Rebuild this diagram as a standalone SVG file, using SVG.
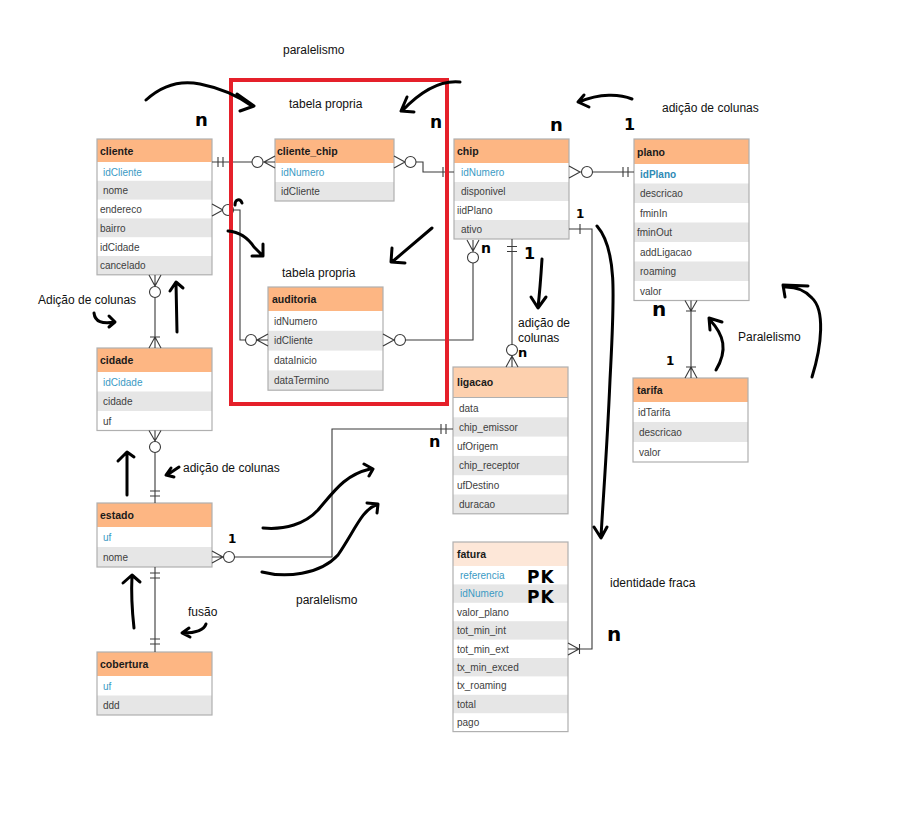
<svg xmlns="http://www.w3.org/2000/svg" width="900" height="838" viewBox="0 0 900 838">
<style>
.bg{fill:#fff;stroke:none}
.hd{fill:#fdb683}
.hd2{fill:#fdd0ae}
.hd3{fill:#fde7d8}
.g{fill:#e6e6e6}
.bd{fill:none;stroke:#b0b0b0;stroke-width:1.2}
.ht{font-family:"Liberation Sans",Arial,sans-serif;font-size:10.5px;font-weight:bold;fill:#1a1a1a}
.rt{font-family:"Liberation Sans",Arial,sans-serif;font-size:10px;fill:#404040}
.pk{fill:#3a9ac4}
.pkb{fill:#2e8ab5;font-weight:bold}
.ln{fill:none;stroke:#3a3a3a;stroke-width:1.1}
.ci{fill:#fff;stroke:#3a3a3a;stroke-width:1.1}
.lb{font-family:"Liberation Sans",Arial,sans-serif;font-size:12px;fill:#111}
.hw{fill:none;stroke:#000;stroke-width:3;stroke-linecap:round;stroke-linejoin:round}
.hn{font-family:"DejaVu Sans",sans-serif;font-weight:bold;fill:#000}
</style>
<rect width="900" height="838" fill="#fff"/>

<g id="cliente">
<rect class="bg" x="97" y="139" width="115" height="136"/>
<rect class="hd" x="97" y="139" width="115" height="23"/>
<rect class="g" x="97" y="180.8" width="115" height="18.8"/>
<rect class="g" x="97" y="218.4" width="115" height="18.8"/>
<rect class="g" x="97" y="256" width="115" height="18.8"/>
<rect class="bd" x="97" y="139" width="115" height="135.8"/>
<text class="ht" x="100" y="155">cliente</text>
<text class="rt pk" x="103" y="175.5">idCliente</text>
<text class="rt" x="103" y="194.3">nome</text>
<text class="rt" x="100" y="213">endereco</text>
<text class="rt" x="100" y="231.8">bairro</text>
<text class="rt" x="100" y="250.6">idCidade</text>
<text class="rt" x="100" y="269.4">cancelado</text>
</g>

<g id="cliente_chip">
<rect class="bg" x="275" y="139" width="119" height="62"/>
<rect class="hd" x="275" y="139" width="119" height="24"/>
<rect class="g" x="275" y="182" width="119" height="19"/>
<rect class="bd" x="275" y="139" width="119" height="62"/>
<text class="ht" x="277" y="155">cliente_chip</text>
<text class="rt pk" x="281" y="176">idNumero</text>
<text class="rt" x="281" y="195">idCliente</text>
</g>

<g id="chip">
<rect class="bg" x="454" y="139" width="115" height="100"/>
<rect class="hd" x="454" y="139" width="115" height="24"/>
<rect class="g" x="454" y="182" width="115" height="19"/>
<rect class="g" x="454" y="220" width="115" height="19"/>
<rect class="bd" x="454" y="139" width="115" height="100"/>
<text class="ht" x="457" y="155">chip</text>
<text class="rt pk" x="461" y="176">idNumero</text>
<text class="rt" x="461" y="195">disponivel</text>
<text class="rt" x="457" y="214">iidPlano</text>
<text class="rt" x="461" y="233">ativo</text>
</g>

<g id="plano">
<rect class="bg" x="634" y="139" width="115" height="161.5"/>
<rect class="hd" x="634" y="139" width="115" height="25"/>
<rect class="g" x="634" y="183.5" width="115" height="19.5"/>
<rect class="g" x="634" y="222.5" width="115" height="19.5"/>
<rect class="g" x="634" y="261.5" width="115" height="19.5"/>
<rect class="bd" x="634" y="139" width="115" height="161.5"/>
<text class="ht" x="637" y="156">plano</text>
<text class="rt pkb" x="640" y="177.5">idPlano</text>
<text class="rt" x="640" y="197">descricao</text>
<text class="rt" x="640" y="216.5">fminIn</text>
<text class="rt" x="637" y="236">fminOut</text>
<text class="rt" x="640" y="255.5">addLigacao</text>
<text class="rt" x="640" y="275">roaming</text>
<text class="rt" x="640" y="294.5">valor</text>
</g>

<g id="cidade">
<rect class="bg" x="97" y="348" width="115" height="82.5"/>
<rect class="hd" x="97" y="348" width="115" height="24"/>
<rect class="g" x="97" y="391.5" width="115" height="19.5"/>
<rect class="bd" x="97" y="348" width="115" height="82.5"/>
<text class="ht" x="100" y="364">cidade</text>
<text class="rt pk" x="103" y="385.5">idCidade</text>
<text class="rt" x="103" y="405">cidade</text>
<text class="rt" x="103" y="424.5">uf</text>
</g>

<g id="auditoria">
<rect class="bg" x="268" y="287" width="115" height="103.2"/>
<rect class="hd" x="268" y="287" width="115" height="24"/>
<rect class="g" x="268" y="330.8" width="115" height="19.8"/>
<rect class="g" x="268" y="370.4" width="115" height="19.8"/>
<rect class="bd" x="268" y="287" width="115" height="103.2"/>
<text class="ht" x="272" y="303">auditoria</text>
<text class="rt" x="274" y="324.5">idNumero</text>
<text class="rt" x="274" y="344.3">idCliente</text>
<text class="rt" x="274" y="364.1">dataInicio</text>
<text class="rt" x="274" y="383.9">dataTermino</text>
</g>

<g id="ligacao">
<rect class="bg" x="453" y="367" width="115" height="146.8"/>
<rect class="hd2" x="453" y="367" width="115" height="30"/>
<line x1="453" y1="397.5" x2="568" y2="397.5" stroke="#b0b0b0" stroke-width="1"/>
<rect class="g" x="453" y="417.3" width="115" height="19.3"/>
<rect class="g" x="453" y="455.9" width="115" height="19.3"/>
<rect class="g" x="453" y="494.5" width="115" height="19.3"/>
<rect class="bd" x="453" y="367" width="115" height="146.8"/>
<text class="ht" x="457" y="386">ligacao</text>
<text class="rt" x="459" y="411.5">data</text>
<text class="rt" x="459" y="430.8">chip_emissor</text>
<text class="rt" x="457" y="450.1">ufOrigem</text>
<text class="rt" x="459" y="469.4">chip_receptor</text>
<text class="rt" x="457" y="488.7">ufDestino</text>
<text class="rt" x="459" y="508">duracao</text>
</g>

<g id="tarifa">
<rect class="bg" x="633" y="378" width="115" height="84"/>
<rect class="hd" x="633" y="378" width="115" height="24"/>
<rect class="g" x="633" y="422" width="115" height="20"/>
<rect class="bd" x="633" y="378" width="115" height="84"/>
<text class="ht" x="637" y="394">tarifa</text>
<text class="rt" x="638" y="416">idTarifa</text>
<text class="rt" x="639" y="436">descricao</text>
<text class="rt" x="639" y="456">valor</text>
</g>

<g id="estado">
<rect class="bg" x="97" y="503" width="115" height="64"/>
<rect class="hd" x="97" y="503" width="115" height="24"/>
<rect class="g" x="97" y="547" width="115" height="20"/>
<rect class="bd" x="97" y="503" width="115" height="64"/>
<text class="ht" x="100" y="519">estado</text>
<text class="rt pk" x="103" y="541">uf</text>
<text class="rt" x="103" y="561">nome</text>
</g>

<g id="cobertura">
<rect class="bg" x="97" y="652" width="115" height="63"/>
<rect class="hd" x="97" y="652" width="115" height="24"/>
<rect class="g" x="97" y="695.5" width="115" height="19.5"/>
<rect class="bd" x="97" y="652" width="115" height="63"/>
<text class="ht" x="100" y="668">cobertura</text>
<text class="rt pk" x="103" y="689.5">uf</text>
<text class="rt" x="103" y="709">ddd</text>
</g>

<g id="fatura">
<rect class="bg" x="453" y="542" width="115" height="189.6"/>
<rect class="hd3" x="453" y="542" width="115" height="24"/>
<rect class="g" x="453" y="584.4" width="115" height="18.4"/>
<rect class="g" x="453" y="621.2" width="115" height="18.4"/>
<rect class="g" x="453" y="658" width="115" height="18.4"/>
<rect class="g" x="453" y="694.8" width="115" height="18.4"/>
<rect class="bd" x="453" y="542" width="115" height="189.6"/>
<text class="ht" x="457" y="558">fatura</text>
<text class="rt pk" x="460" y="579">referencia</text>
<text class="rt pk" x="460" y="597.4">idNumero</text>
<text class="rt" x="457" y="615.8">valor_plano</text>
<text class="rt" x="457" y="634.2">tot_min_int</text>
<text class="rt" x="457" y="652.6">tot_min_ext</text>
<text class="rt" x="457" y="671">tx_min_exced</text>
<text class="rt" x="457" y="689.4">tx_roaming</text>
<text class="rt" x="457" y="707.8">total</text>
<text class="rt" x="457" y="726.2">pago</text>
</g>

<g id="connectors">
<path class="ln" d="M212 162 H275 M218 157 V167 M223 157 V167 M264 162 L275 156 M264 162 L275 168"/>
<circle class="ci" cx="257.5" cy="162" r="5.5"/>
<path class="ln" d="M394 156 L405 162 L394 168 M405 162 H423 V172 H454 M443 167 V177"/>
<circle class="ci" cx="410.5" cy="162" r="5.5"/>
<path class="ln" d="M569 166 L580 172 L569 178 M580 172 H634 M623 167 V177 M628 167 V177"/>
<circle class="ci" cx="587" cy="172" r="5.5"/>
<path class="ln" d="M212 204 L223 210 L212 216 M223 210 H240 V340 H268 M257 340 L268 334 M257 340 L268 346"/>
<circle class="ci" cx="228" cy="210" r="5.5"/>
<circle class="ci" cx="251" cy="340" r="5.5"/>
<path class="ln" d="M383 334 L394 340 L383 346 M394 340 H473 V240 M467 240 L473 251 L479 240"/>
<circle class="ci" cx="400" cy="340" r="5.5"/>
<circle class="ci" cx="473" cy="257.5" r="5.5"/>
<path class="ln" d="M512 239 V367 M507 246.5 H517 M507 251.5 H517 M512 356 L506 367 M512 356 L518 367"/>
<circle class="ci" cx="512" cy="350" r="5.5"/>
<path class="ln" d="M569 229 H592 V649 H568 M580 224 V234 M568 643 L579 649 L568 655 M579.5 644 V654"/>
<path class="ln" d="M453 429 H332 V557 H212 M441 424 V434 M446 424 V434 M212 551 L223 557 L212 563"/>
<circle class="ci" cx="229" cy="557" r="5.5"/>
<path class="ln" d="M155 275 V348 M149 275 L155 286 L161 275 M150 337 H160 M155 337 L149 348 M155 337 L161 348"/>
<circle class="ci" cx="155" cy="292" r="5.5"/>
<path class="ln" d="M155 430.5 V503 M149 430.5 L155 441 L161 430.5 M150 491 H160 M150 496 H160"/>
<circle class="ci" cx="155" cy="447" r="5.5"/>
<path class="ln" d="M155 567 V652 M150 573 H160 M150 578 H160 M150 639 H160 M150 644 H160"/>
<path class="ln" d="M691 300.5 V378 M685 300.5 L691 311 L697 300.5 M686 311 H696 M686 367 H696 M691 367 L685 378 M691 367 L697 378"/>
</g>

<rect x="231" y="80" width="216" height="324" fill="none" stroke="#e5202a" stroke-width="4"/>

<g id="labels">
<text class="lb" x="283" y="54">paralelismo</text>
<text class="lb" x="289" y="108">tabela propria</text>
<text class="lb" x="282" y="277">tabela propria</text>
<text class="lb" x="662" y="112">adição de colunas</text>
<text class="lb" x="38" y="304">Adição de colunas</text>
<text class="lb" x="183" y="472">adição de colunas</text>
<text class="lb" x="518" y="327">adição de</text>
<text class="lb" x="518" y="342">colunas</text>
<text class="lb" x="738" y="341">Paralelismo</text>
<text class="lb" x="296" y="604">paralelismo</text>
<text class="lb" x="188" y="616">fusão</text>
<text class="lb" x="610" y="587">identidade fraca</text>
</g>

<g id="handwriting">
<path class="hw" d="M146 100 Q170 78 200 84 T252 106 M237 94 L254 106 L240 111"/>
<path class="hw" d="M460 82 C440 80 420 92 402 111 M407 97 L401 111 L414 112"/>
<path class="hw" d="M228 231 C240 232 248 238 254 247 L262 255 M263 244 L263 256 L252 256"/>
<path class="hw" d="M235 205 C235 199 240 198 242 203"/>
<path class="hw" d="M432 228 L392 262 M392 248 L391 262 L405 263"/>
<path class="hw" d="M632 99 C620 94 600 93 579 102 M584 95 L578 102 L589 107"/>
<path class="hw" d="M542 259 C541 275 540 290 538 307 M531 297 L538 308 L546 297"/>
<path class="hw" d="M597 226 C618 250 614 300 610 380 C607 450 603 500 601 537 M594 527 L601 538 L607 527"/>
<path class="hw" d="M716 370 C728 350 724 335 710 320 M710 330 L709 318 L722 322"/>
<path class="hw" d="M812 377 C822 345 825 310 812 298 C805 290 795 287 786 287 M808 286 L783 285 L785 297"/>
<path class="hw" d="M177 332 L176 283 M170 291 L176 282 L183 288"/>
<path class="hw" d="M94 313 C95 322 102 324 115 322 M109 316 L115 322 L109 327"/>
<path class="hw" d="M127 495 L127 453 M118 461 L127 452 L134 457"/>
<path class="hw" d="M179 467 L167 475 M171 468 L166 475 L174 477"/>
<path class="hw" d="M263 528 C285 530 305 524 318 510 C335 490 345 475 370 469 M364 464 L373 469 L369 476"/>
<path class="hw" d="M262 572 C285 578 320 575 338 555 C355 530 362 510 376 505 M367 503 L378 504 L377 513"/>
<path class="hw" d="M134 628 C132 610 131 595 132 576 M123 583 L132 575 L140 582"/>
<path class="hw" d="M206 624 C204 630 196 633 183 633 M189 628 L182 633 L190 637"/>
<text class="hn" x="195" y="126" font-size="18">n</text>
<text class="hn" x="430" y="128" font-size="17">n</text>
<text class="hn" x="550" y="131" font-size="18">n</text>
<text class="hn" x="481" y="253" font-size="14">n</text>
<text class="hn" x="518" y="357" font-size="13">n</text>
<text class="hn" x="652" y="316" font-size="20">n</text>
<text class="hn" x="429" y="447" font-size="16">n</text>
<text class="hn" x="607" y="641" font-size="20">n</text>
<text class="hn" x="624" y="130" font-size="16">1</text>
<text class="hn" x="524" y="259" font-size="16">1</text>
<text class="hn" x="576" y="218" font-size="12">1</text>
<text class="hn" x="666" y="365" font-size="12">1</text>
<text class="hn" x="228" y="543" font-size="12">1</text>
<text class="hn" x="527" y="583" font-size="17" letter-spacing="1">PK</text>
<text class="hn" x="527" y="603" font-size="17" letter-spacing="1">PK</text>
</g>
</svg>
